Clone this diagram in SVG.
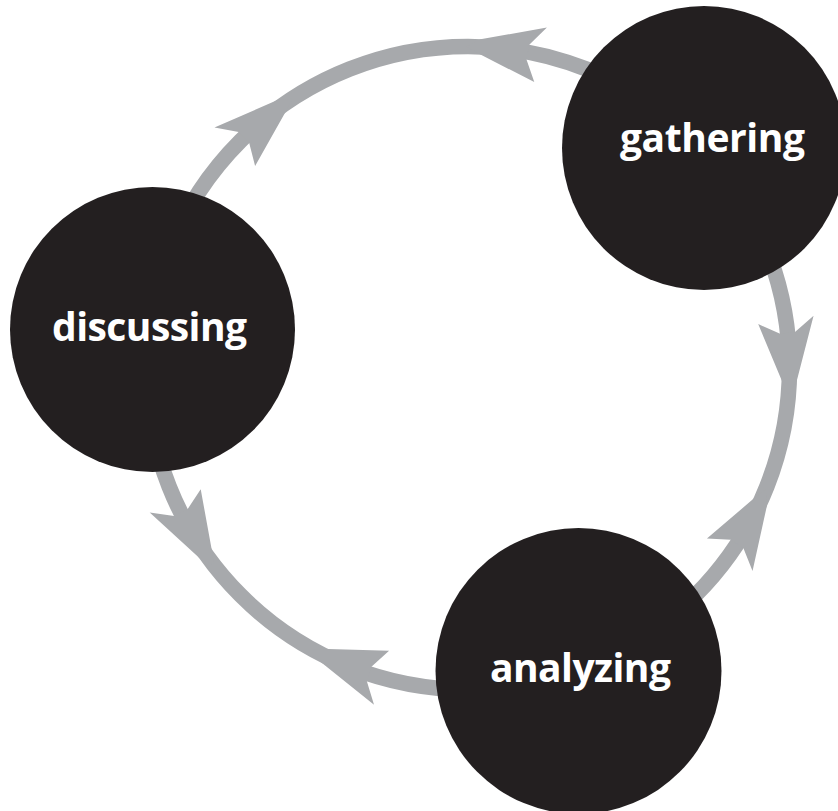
<svg xmlns="http://www.w3.org/2000/svg" xmlns:xlink="http://www.w3.org/1999/xlink" width="838" height="811" viewBox="0 0 838 811">
  <style>
    .ring { fill: none; stroke: #a7a9ac; stroke-width: 15.5; }
    .head { fill: #a7a9ac; }
    .node { fill: #231f20; }
    .label { fill: #ffffff; font-family: "Open Sans", "Liberation Sans", sans-serif; font-weight: 700; font-size: 39px; text-anchor: middle; }
  </style>
  <defs>
    <polygon id="arrowhead" class="head" points="0,-349.5 62.05,-323.09 74.32,-312.79 59.22,-308.36 0,-293.5 12.69,-313.74 13.3,-328.73"/>
  </defs>
  <rect width="838" height="811" fill="#ffffff"/>
  <g id="connectors">
    <circle class="ring" cx="468" cy="368" r="321.5"/>
    <use xlink:href="#arrowhead" transform="translate(468,368) rotate(-46.5)"/>
    <use xlink:href="#arrowhead" transform="translate(468,368) rotate(13.05) scale(-1,1)"/>
    <use xlink:href="#arrowhead" transform="translate(468,368) rotate(81.4)"/>
    <use xlink:href="#arrowhead" transform="translate(468,368) rotate(125.5) scale(-1,1)"/>
    <use xlink:href="#arrowhead" transform="translate(468,368) rotate(195.6)"/>
    <use xlink:href="#arrowhead" transform="translate(468,368) rotate(245.6) scale(-1,1)"/>
  </g>
  <g id="node-gathering">
    <circle class="node" cx="704" cy="148" r="142"/>
    <text class="label" x="712.5" y="152" textLength="185">gathering</text>
  </g>
  <g id="node-discussing">
    <circle class="node" cx="152.5" cy="329.5" r="142.5"/>
    <text class="label" x="149.5" y="341" textLength="195">discussing</text>
  </g>
  <g id="node-analyzing">
    <circle class="node" cx="578.5" cy="671" r="143"/>
    <text class="label" x="580.5" y="682" textLength="181">analyzing</text>
  </g>
</svg>
